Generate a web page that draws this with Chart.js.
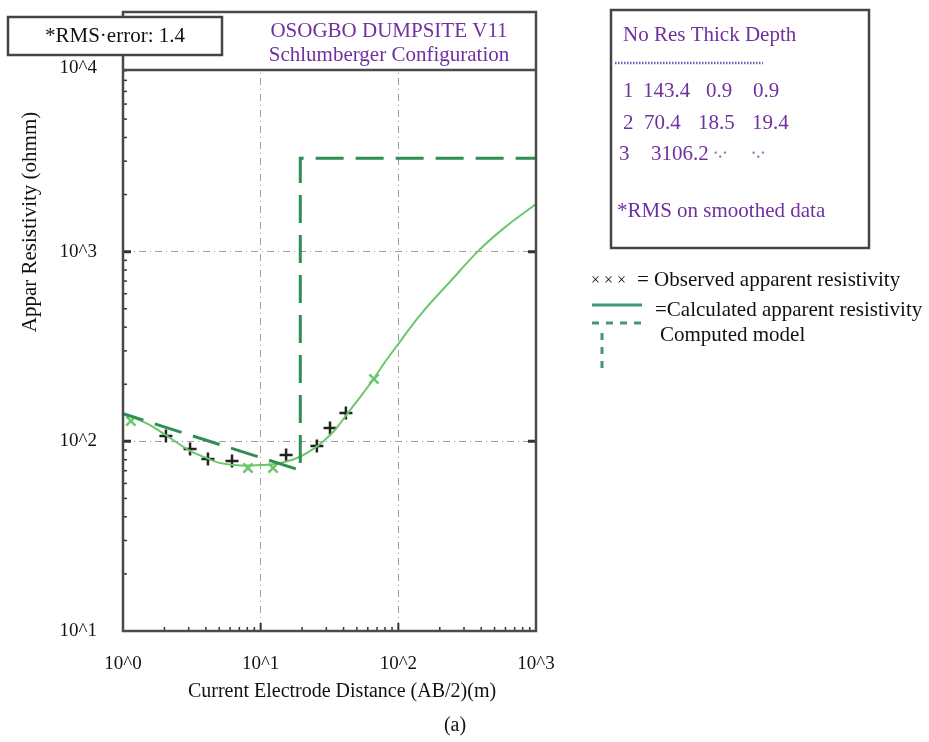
<!DOCTYPE html>
<html>
<head>
<meta charset="utf-8">
<script src="https://cdn.jsdelivr.net/npm/chart.js@4"></script>
<style>
  html, body { margin: 0; padding: 0; background: #fff; }
</style>
</head>
<body>
<canvas id="chartVes" width="929" height="742"></canvas>
<script>
// layer model from the inversion
const layerNo = [1, 2, 3];
const layerRes = [143.4, 70.4, 3106.2];
const layerThick = ['0.9', '18.5', '·.·'];
const layerDepth = [0.9, 19.4, null];

// observed apparent resistivity, AB/2 (m) vs ohmm
const obsX = [2.05, 3.07, 4.14, 6.19, 15.3, 25.6, 31.9, 41.6];
const obsY = [106.7, 91, 80.7, 78.7, 84.7, 94.4, 117.5, 141];
const smoothX = [1.14, 8.09, 12.3, 66.5];
const smoothY = [128, 72.3, 72.3, 213];

// calculated apparent resistivity curve
const calcX = [1, 1.5, 2, 3, 4, 5, 6.5, 8, 10, 12, 14, 17, 20, 24, 28, 34, 43, 55, 66, 80, 100, 146, 240, 380, 585, 1000];
const calcY = [140, 124, 109, 90, 82, 77, 75, 74.5, 75, 75.5, 77, 80, 84, 91, 99, 113, 141, 178, 213, 262, 326, 469, 700, 1007, 1331, 1782];

const xTickLabels = ['10^0', '10^1', '10^2', '10^3'];
const yTickLabels = ['10^1', '10^2', '10^3', '10^4'];

const purple = '#7030a0';
const serif = "'Liberation Serif', 'Times New Roman', serif";
Chart.defaults.font.family = serif;

const toPts = (xs, ys) => xs.map((x, i) => ({ x: x, y: ys[i] }));

// model drawn as a line through the layer boundaries
const modelPts = [
  { x: layerDepth[0], y: layerRes[0] },
  { x: layerDepth[1], y: layerRes[1] },
  { x: layerDepth[1], y: layerRes[2] },
  { x: 1000, y: layerRes[2] }
];

const decadeExp = v => {
  const e = Math.log10(v);
  return Math.abs(e - Math.round(e)) < 1e-9 ? Math.round(e) : null;
};

const frame = { left: 123, top: 12, right: 536, bottom: 631, titleBottom: 70 };

const decorPlugin = {
  id: 'decor',
  afterDraw(chart) {
    const ctx = chart.ctx;
    const xs = chart.scales.x, ys = chart.scales.y;
    ctx.save();

    // minor/major tick marks along the axes
    ctx.strokeStyle = '#333';
    [1, 10, 100].forEach(d => {
      for (let k = 2; k <= 10; k++) {
        const px = xs.getPixelForValue(k * d);
        const major = k === 10 && d < 100;
        if (k === 10 && !major) continue;
        ctx.lineWidth = major ? 2 : 1.5;
        ctx.beginPath();
        ctx.moveTo(px, frame.bottom);
        ctx.lineTo(px, frame.bottom - (major ? 8 : 4));
        ctx.stroke();
      }
    });
    [10, 100, 1000].forEach(d => {
      for (let k = 2; k <= 9; k++) {
        const py = ys.getPixelForValue(k * d);
        if (py < frame.titleBottom) continue;
        ctx.lineWidth = 1.5;
        ctx.beginPath();
        ctx.moveTo(frame.left, py);
        ctx.lineTo(frame.left + 4, py);
        ctx.stroke();
      }
    });
    [100, 1000].forEach(v => {
      const py = ys.getPixelForValue(v);
      ctx.lineWidth = 3;
      ctx.beginPath();
      ctx.moveTo(frame.left, py); ctx.lineTo(frame.left + 8, py);
      ctx.moveTo(frame.right, py); ctx.lineTo(frame.right - 8, py);
      ctx.stroke();
    });

    // title box over the top of the plot
    ctx.fillStyle = '#fff';
    ctx.fillRect(frame.left, frame.top, frame.right - frame.left, frame.titleBottom - frame.top);
    ctx.strokeStyle = '#4a4a4a';
    ctx.lineWidth = 2.5;
    ctx.strokeRect(frame.left, frame.top, frame.right - frame.left, frame.bottom - frame.top);
    ctx.beginPath();
    ctx.moveTo(frame.left, frame.titleBottom);
    ctx.lineTo(frame.right, frame.titleBottom);
    ctx.stroke();

    ctx.fillStyle = purple;
    ctx.font = '21px ' + serif;
    ctx.textAlign = 'center';
    ctx.textBaseline = 'middle';
    ctx.fillText('OSOGBO DUMPSITE V11', 389, 31);
    ctx.fillText('Schlumberger Configuration', 389, 55);

    // rms box
    ctx.fillStyle = '#fff';
    ctx.fillRect(8, 17, 214, 38);
    ctx.strokeStyle = '#444';
    ctx.strokeRect(8, 17, 214, 38);
    ctx.fillStyle = '#111';
    ctx.fillText('*RMS·error: 1.4', 115, 36);

    // top decade label sits just under the rms box
    ctx.textAlign = 'right';
    ctx.font = '19px ' + serif;
    ctx.fillText(yTickLabels[3], 97, 68);
    ctx.textAlign = 'center';

    // axis titles
    ctx.font = '20px ' + serif;
    ctx.fillText('Current Electrode Distance (AB/2)(m)', 342, 692);
    ctx.fillText('(a)', 455, 726);
    ctx.save();
    ctx.translate(30, 222);
    ctx.rotate(-Math.PI / 2);
    ctx.font = '21px ' + serif;
    ctx.fillText('Appar Resistivity (ohmm)', 0, 0);
    ctx.restore();

    // layer table
    ctx.strokeStyle = '#444';
    ctx.lineWidth = 2.5;
    ctx.strokeRect(611, 10, 258, 238);
    ctx.textAlign = 'left';
    ctx.fillStyle = purple;
    ctx.font = '21px ' + serif;
    ctx.fillText('No Res Thick Depth', 623, 35);
    ctx.strokeStyle = '#6b63b8';
    ctx.lineWidth = 2.5;
    ctx.setLineDash([1.5, 1.5]);
    ctx.beginPath();
    ctx.moveTo(615, 63); ctx.lineTo(763, 63);
    ctx.stroke();
    ctx.setLineDash([]);

    const colX = [[623, 643, 706, 753], [623, 644, 698, 752], [619, 651, 713, 751]];
    const rowY = [91, 123, 154];
    layerNo.forEach((n, i) => {
      const cells = [String(n), layerRes[i].toFixed(1), layerThick[i], layerDepth[i] === null ? '·.·' : layerDepth[i].toFixed(1)];
      cells.forEach((c, j) => {
        if (c === '·.·') {
          ctx.fillStyle = '#8a8fb8';
          ctx.font = 'bold 16px ' + serif;
        } else {
          ctx.fillStyle = purple;
          ctx.font = '21px ' + serif;
        }
        ctx.fillText(c, colX[i][j], rowY[i]);
      });
    });
    ctx.fillStyle = purple;
    ctx.font = '21px ' + serif;
    ctx.fillText('*RMS on smoothed data', 617, 211);

    // legend
    ctx.fillStyle = '#111';
    ctx.font = '16px ' + serif;
    ctx.fillText('× × ×', 591, 281);
    ctx.font = '21px ' + serif;
    ctx.fillText('= Observed apparent resistivity', 637, 280);
    ctx.fillText('=Calculated apparent resistivity', 655, 310);
    ctx.fillText('Computed model', 660, 335);
    ctx.strokeStyle = '#3f9a72';
    ctx.lineWidth = 3;
    ctx.beginPath();
    ctx.moveTo(592, 305); ctx.lineTo(642, 305);
    ctx.stroke();
    ctx.setLineDash([7, 7]);
    ctx.beginPath();
    ctx.moveTo(592, 323); ctx.lineTo(648, 323);
    ctx.moveTo(602, 333); ctx.lineTo(602, 368);
    ctx.stroke();
    ctx.restore();
  }
};

new Chart(document.getElementById('chartVes').getContext('2d'), {
  type: 'scatter',
  data: {
    datasets: [
      {
        label: 'Computed model',
        data: modelPts,
        showLine: true,
        borderColor: '#2f8f52',
        borderWidth: 3,
        borderDash: [28, 12],
        pointRadius: 0
      },
      {
        label: 'Calculated apparent resistivity',
        data: toPts(calcX, calcY),
        showLine: true,
        borderColor: '#6cc76c',
        borderWidth: 2,
        tension: 0.4,
        pointRadius: 0
      },
      {
        label: 'Observed apparent resistivity',
        data: toPts(obsX, obsY),
        pointStyle: 'cross',
        pointRadius: 6.5,
        borderColor: '#222',
        borderWidth: 2.5
      },
      {
        label: 'Smoothed',
        data: toPts(smoothX, smoothY),
        pointStyle: 'crossRot',
        pointRadius: 6.5,
        borderColor: '#6cc76c',
        borderWidth: 2.5
      }
    ]
  },
  options: {
    responsive: false,
    animation: false,
    layout: { padding: { left: 0, right: 393, top: 62, bottom: 0 } },
    plugins: { legend: { display: false }, tooltip: { enabled: false } },
    scales: {
      x: {
        type: 'logarithmic',
        min: 1,
        max: 1000,
        afterFit: s => { s.height = 111; },
        grid: {
          color: c => decadeExp(c.tick.value) !== null ? '#a0a0a0' : 'rgba(0,0,0,0)',
          drawTicks: false,
          lineWidth: 1
        },
        border: { display: false, dash: [7, 4, 1, 4] },
        ticks: {
          autoSkip: false,
          maxRotation: 0,
          padding: 22,
          color: '#111',
          font: { size: 19 },
          callback: v => {
            const e = decadeExp(v);
            return e === null ? '' : xTickLabels[e];
          }
        }
      },
      y: {
        type: 'logarithmic',
        min: 10,
        max: 10000,
        afterFit: s => { s.width = 123; },
        grid: {
          color: c => decadeExp(c.tick.value) !== null ? '#a0a0a0' : 'rgba(0,0,0,0)',
          drawTicks: false,
          lineWidth: 1
        },
        border: { display: false, dash: [7, 4, 1, 4] },
        ticks: {
          autoSkip: false,
          padding: 26,
          color: '#111',
          font: { size: 19 },
          callback: v => {
            const e = decadeExp(v);
            // the top label is drawn separately below the rms box
            return e === null || e === 4 ? '' : yTickLabels[e - 1];
          }
        }
      }
    }
  },
  plugins: [decorPlugin]
});
</script>
</body>
</html>
